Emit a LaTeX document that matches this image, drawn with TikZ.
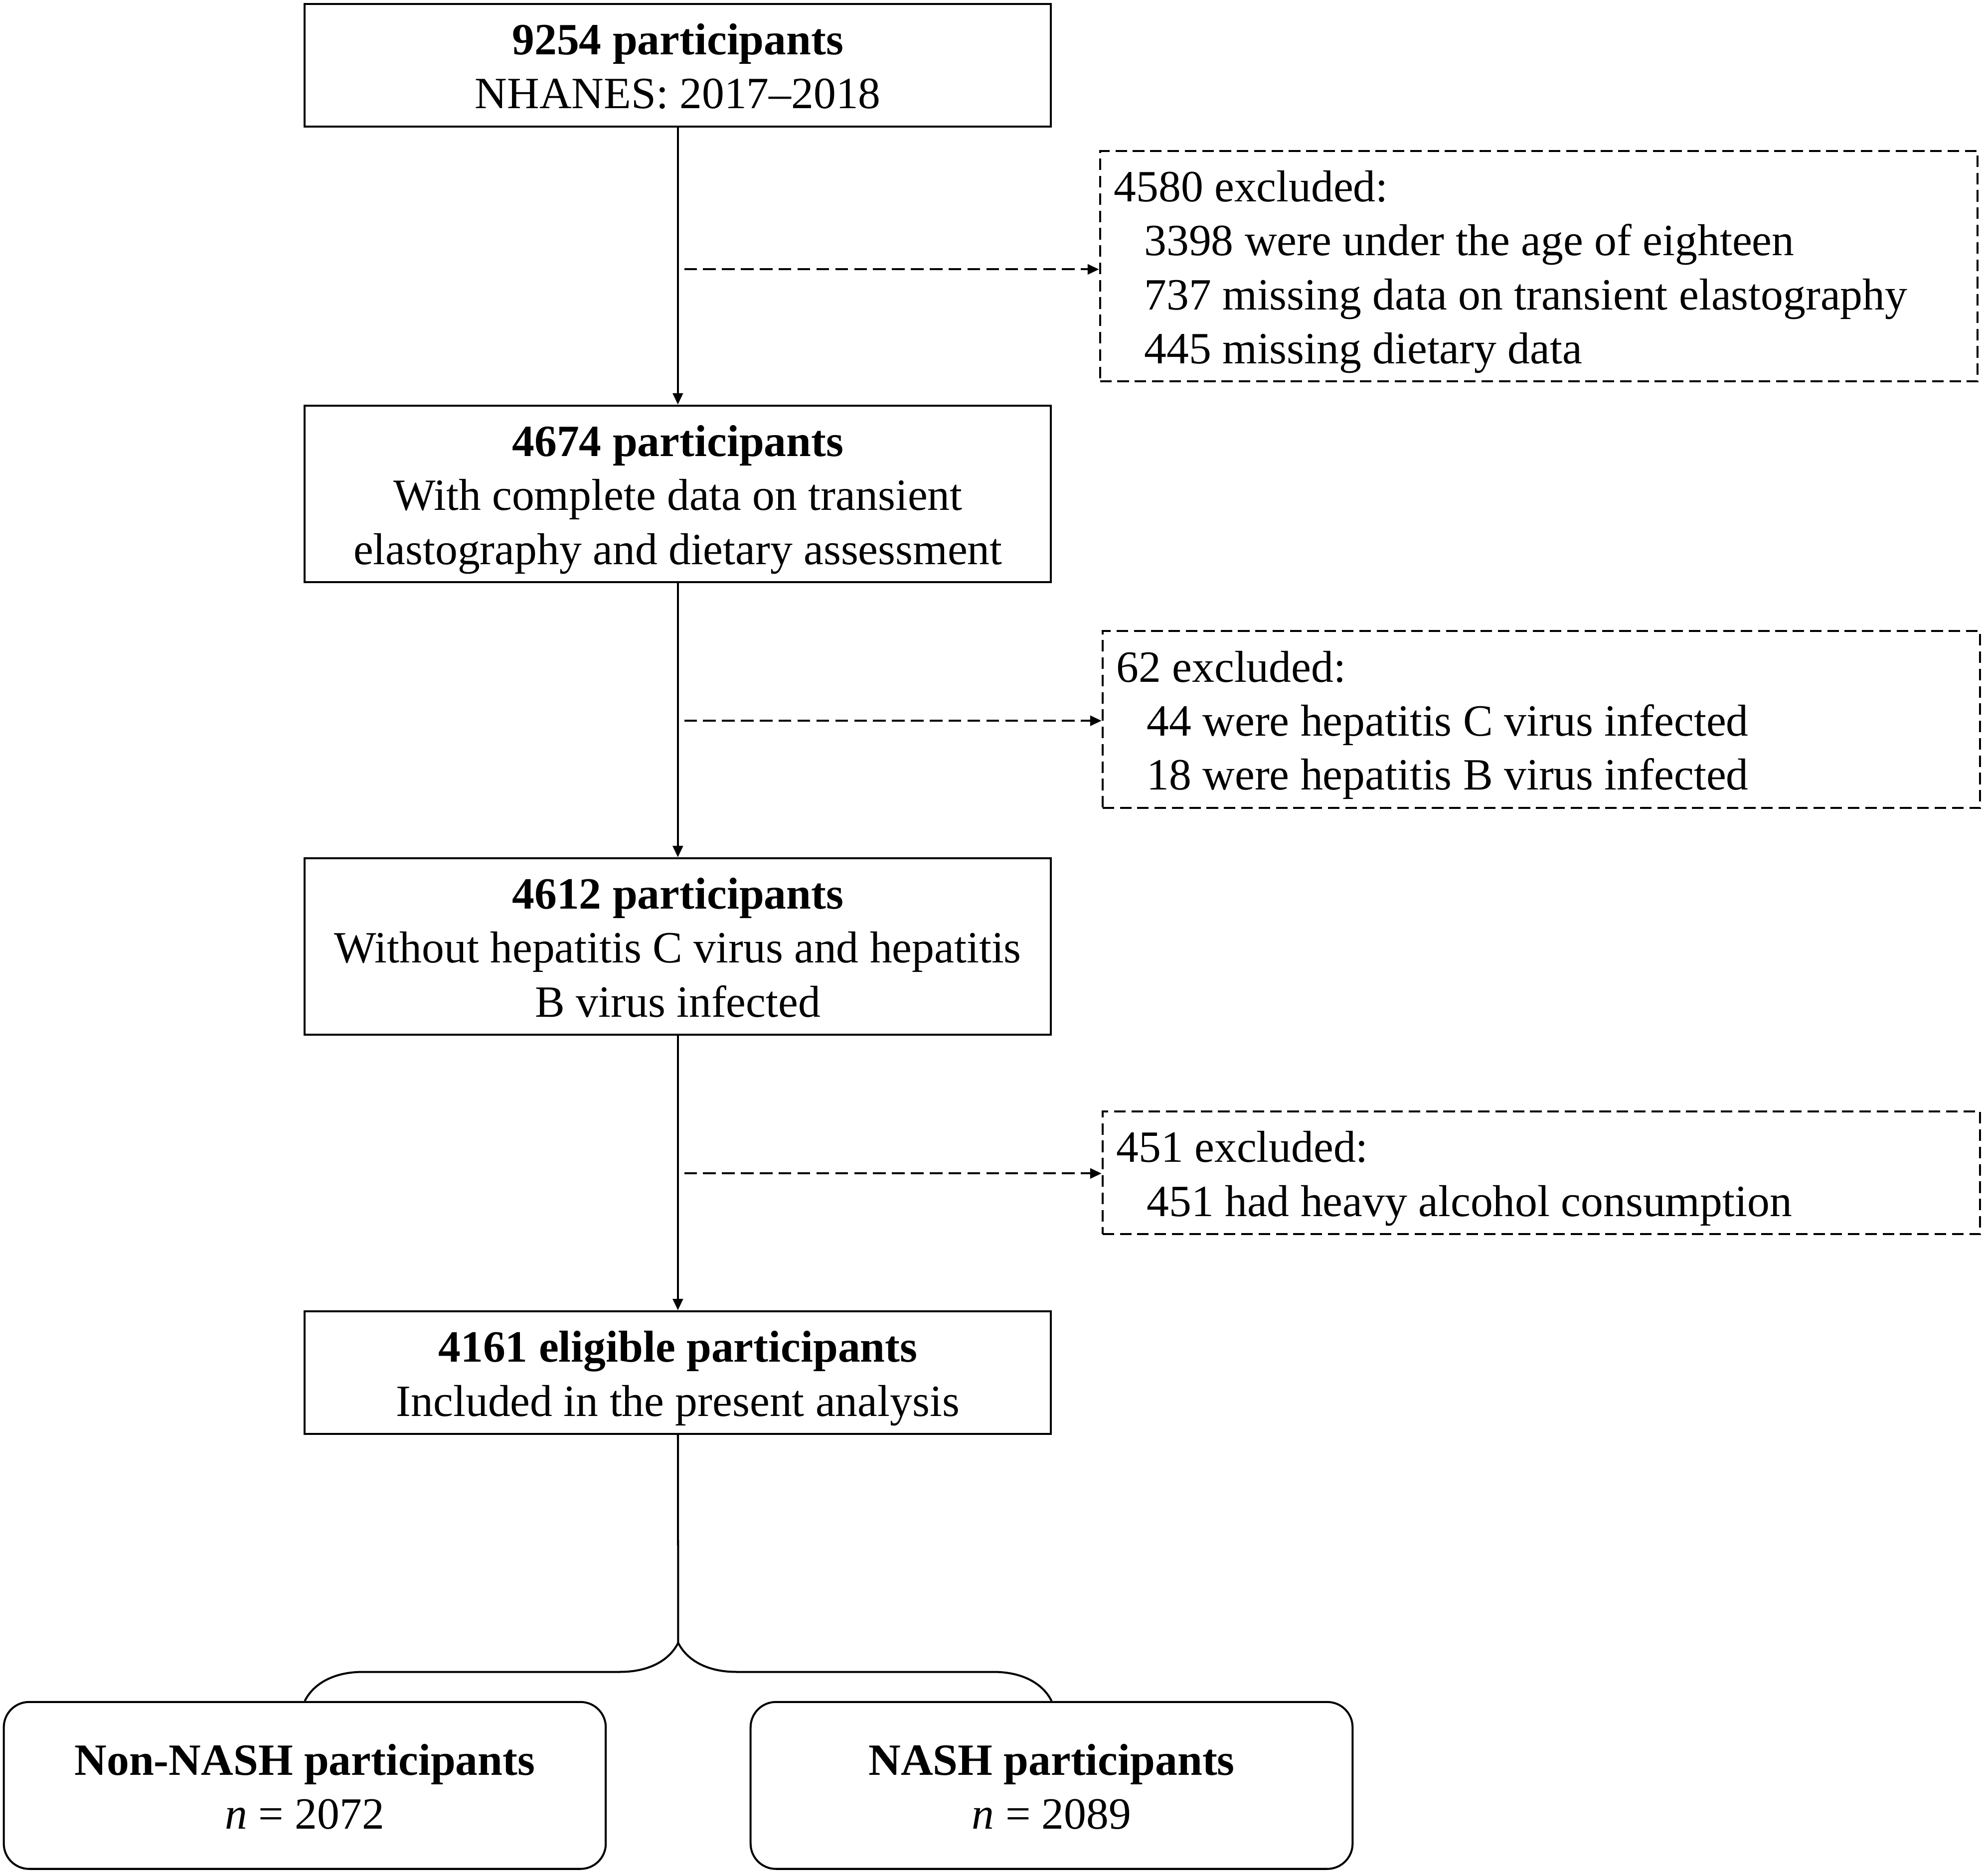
\documentclass[tikz,border=0pt]{standalone}
\usepackage{fontspec}
\setmainfont{Liberation Serif}
\usetikzlibrary{positioning, calc, arrows.meta, decorations.pathreplacing}
\newcommand{\tstrut}{\rule{0pt}{11.4pt}}
\newcommand{\bstrut}{\rule[-4pt]{0pt}{4pt}}
\newcommand{\natspace}{\spaceskip=0pt\relax}

\begin{document}
\begin{tikzpicture}[line width=0.45pt, font=\fontsize{10.05}{12.15}\selectfont]
		\useasboundingbox (0,0) rectangle (15.68,-14.836);
		\tikzstyle{stepbox}=[draw, rectangle, minimum width=5.9cm, align=center, inner sep=0pt]
		\tikzstyle{exbox}=[draw, dash pattern=on 2.6pt off 1.3pt, rectangle, inner xsep=0.11cm, inner ysep=0pt, text width=6.72cm, align=left, anchor=west]
		\tikzstyle{groupbox}=[draw, rectangle, rounded corners=0.2cm, minimum width=4.76cm, minimum height=1.32cm, align=center, inner sep=0pt]
		\tikzstyle{arr}=[-{Triangle[length=0.09cm, width=0.08cm]}]
		\tikzstyle{dasharr}=[arr, dash pattern=on 2.85pt off 1.4pt]
		%%
		\node (p1) at (5.36,-0.515) [stepbox, minimum height=0.97cm] {\tstrut\textbf{9254 participants}\\NHANES: 2017--2018\bstrut};
		\node (p2) at (5.36,-3.905) [stepbox, minimum height=1.39cm] {\tstrut\textbf{4674 participants}\\With complete data on transient\\elastography and dietary assessment\bstrut};
		\node (p3) at (5.36,-7.485) [stepbox, minimum height=1.39cm] {\tstrut\textbf{4612 participants}\\Without hepatitis C virus and hepatitis\\B virus infected\bstrut};
		\node (p4) at (5.36,-10.855) [stepbox, minimum height=0.97cm] {\tstrut\textbf{4161 eligible participants}\\Included in the present analysis\bstrut};
		
		\node (x1) at (8.69,-2.105) [exbox, minimum height=1.81cm] {\natspace\tstrut 4580 excluded:\\\hspace*{0.24cm}3398 were under the age of eighteen\\\hspace*{0.24cm}737 missing data on transient elastography\\\hspace*{0.24cm}445 missing dietary data\bstrut};
		\node (x2) at (8.71,-5.69) [exbox, minimum height=1.40cm] {\natspace\tstrut 62 excluded:\\\hspace*{0.24cm}44 were hepatitis C virus infected\\\hspace*{0.24cm}18 were hepatitis B virus infected\bstrut};
		\node (x3) at (8.71,-9.275) [exbox, minimum height=0.95cm] {\natspace\tstrut 451 excluded:\\\hspace*{0.24cm}451 had heavy alcohol consumption\bstrut};
		
		\node (g1) at (2.41,-14.12) [groupbox] {\tstrut\textbf{Non-NASH participants}\\\textit{n} = 2072\bstrut};
		\node (g2) at (8.315,-14.12) [groupbox] {\tstrut\textbf{NASH participants}\\\textit{n} = 2089\bstrut};
		
		\draw [arr] (p1) -- (p2);
		\draw [arr] (p2) -- (p3);
		\draw [arr] (p3) -- (p4);
		
		\coordinate (s1) at (5.41,-2.13);
		\coordinate (s2) at (5.41,-5.70);
		\coordinate (s3) at (5.41,-9.28);
		\draw [dasharr] (s1) -- (s1 -| x1.west);
		\draw [dasharr] (s2) -- (s2 -| x2.west);
		\draw [dasharr] (s3) -- (s3 -| x3.west);
		
		\draw [decorate, decoration={brace, amplitude=0.46cm}] (g1.north) -- (g2.north);
		\coordinate (tip) at ($(g1.north)!0.5!(g2.north)+(0,0.46)$);
		\draw (p4) -- (tip);
\end{tikzpicture}
\end{document}
